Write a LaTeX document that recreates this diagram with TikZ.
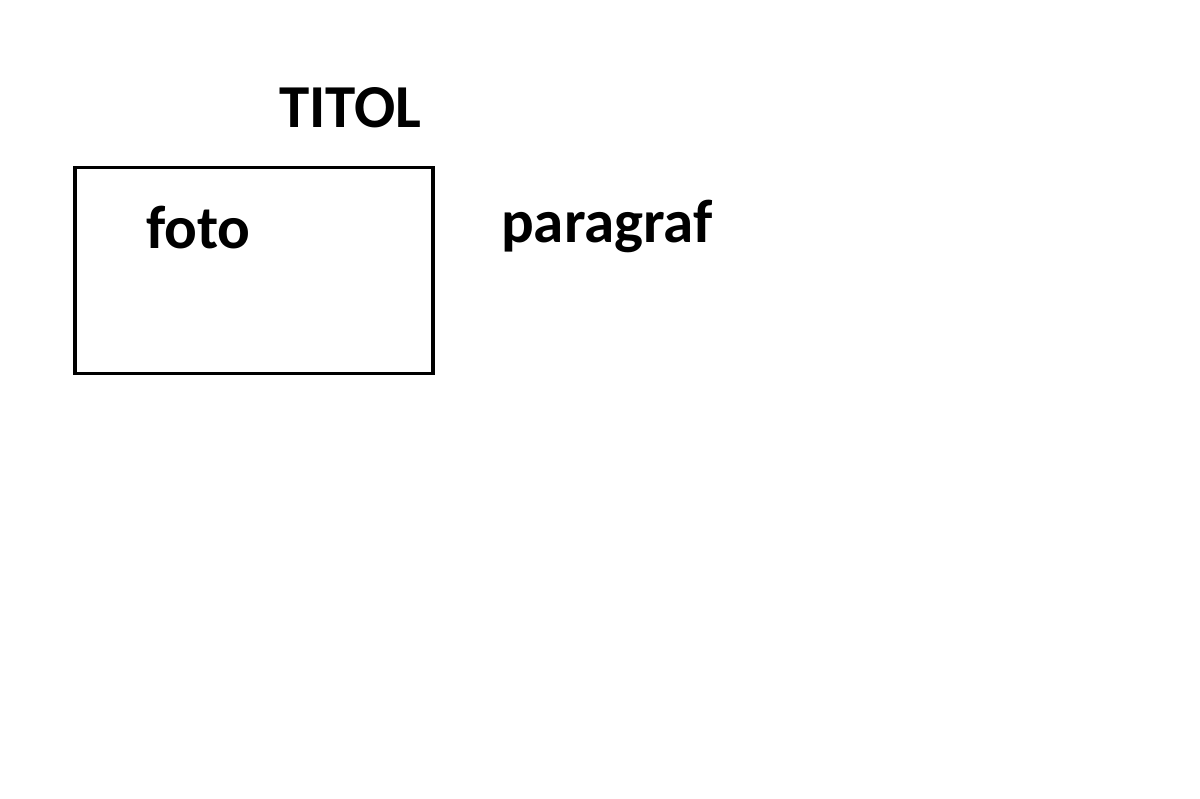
\documentclass[tikz,border=0pt]{standalone}
\usepackage{fontspec}
\setmainfont{Carlito}
\begin{document}
\begin{tikzpicture}[x=1pt,y=-1pt,
  lbl/.style={font=\fontsize{61}{61}\selectfont\bfseries, inner sep=0pt, anchor=base west},
  box/.style={draw, line width=3.5pt}]
\useasboundingbox (0,0) rectangle (1200,799);
\node[box, minimum width=358pt, minimum height=206pt, anchor=north west, inner sep=0pt] (photo) at (73,166) {};
\node[lbl] (title) at (279,128) {TITOL};
\node[lbl] (foto) at (146,249) {foto};
\node[lbl] (para) at (501,243) {paragraf};
\end{tikzpicture}
\end{document}
